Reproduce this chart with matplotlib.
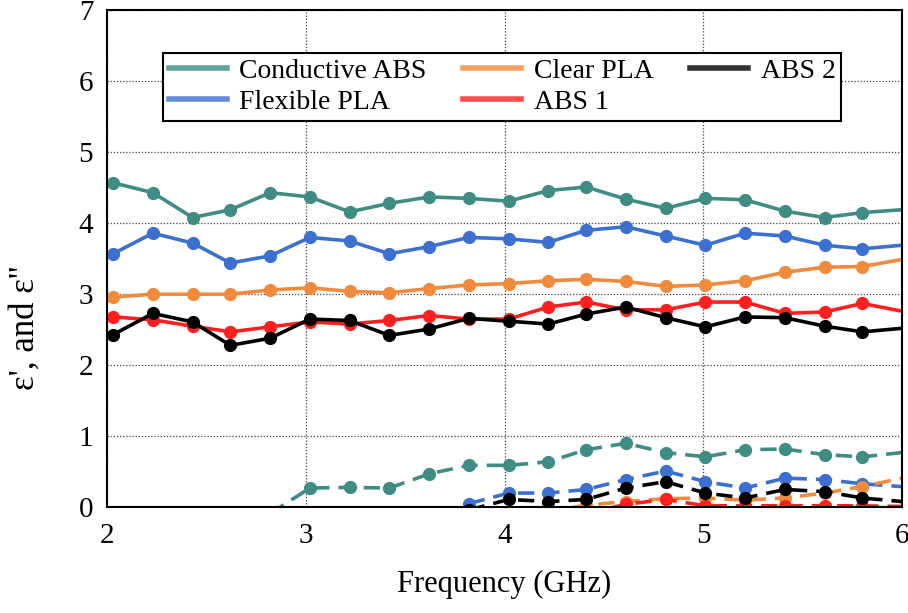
import numpy as np
import matplotlib
matplotlib.use("Agg")
import matplotlib.pyplot as plt
from matplotlib.lines import Line2D

nan = np.nan
freq = [2.03, 2.23, 2.43, 2.62, 2.82, 3.02, 3.22, 3.42, 3.62, 3.82, 4.02,
        4.22, 4.41, 4.61, 4.81, 5.01, 5.21, 5.41, 5.61, 5.80, 6.00]

# real part (eps')
cond_abs_re = [4.56, 4.42, 4.07, 4.18, 4.42, 4.36, 4.15, 4.27, 4.36, 4.34, 4.30,
               4.45, 4.50, 4.33, 4.20, 4.34, 4.32, 4.16, 4.07, 4.14, 4.18]
flex_pla_re = [3.56, 3.85, 3.71, 3.43, 3.53, 3.79, 3.74, 3.56, 3.66, 3.79, 3.77,
               3.72, 3.89, 3.94, 3.81, 3.68, 3.85, 3.81, 3.68, 3.63, 3.68]
clear_pla_re = [2.95, 2.99, 2.99, 2.99, 3.05, 3.08, 3.03, 3.01, 3.07, 3.12, 3.14,
                3.18, 3.20, 3.17, 3.10, 3.12, 3.18, 3.30, 3.37, 3.38, 3.48]
abs1_re = [2.67, 2.63, 2.54, 2.46, 2.53, 2.60, 2.57, 2.62, 2.69, 2.64, 2.64,
           2.81, 2.88, 2.77, 2.77, 2.88, 2.88, 2.72, 2.74, 2.86, 2.75]
abs2_re = [2.42, 2.72, 2.60, 2.27, 2.37, 2.64, 2.62, 2.41, 2.50, 2.65, 2.61,
           2.57, 2.71, 2.81, 2.66, 2.53, 2.67, 2.66, 2.54, 2.46, 2.51]

# imaginary part (eps'')
cond_abs_im = [nan, nan, nan, nan, -0.10, 0.26, 0.27, 0.26, 0.46, 0.58, 0.58,
               0.63, 0.80, 0.89, 0.76, 0.70, 0.80, 0.81, 0.73, 0.70, 0.76]
flex_pla_im = [nan, nan, nan, nan, nan, nan, nan, nan, nan, 0.04, 0.19,
               0.19, 0.24, 0.38, 0.50, 0.35, 0.26, 0.40, 0.38, 0.32, 0.28]
clear_pla_im = [nan, nan, nan, nan, nan, nan, nan, nan, nan, nan, nan,
                -0.07, 0.02, 0.07, 0.11, 0.12, 0.09, 0.12, 0.19, 0.28, 0.40]
abs1_im = [nan, nan, nan, nan, nan, nan, nan, nan, nan, nan, nan,
           nan, -0.10, 0.03, 0.10, 0.01, 0.01, 0.01, 0.01, 0.01, 0.00]
abs2_im = [nan, nan, nan, nan, nan, nan, nan, nan, nan, -0.05, 0.10,
           0.07, 0.10, 0.26, 0.35, 0.19, 0.12, 0.24, 0.21, 0.12, 0.07]

labels = ["Conductive ABS", "Flexible PLA", "Clear PLA", "ABS 1", "ABS 2"]
colors = ["#3f8c85", "#3b6fd0", "#f08a3c", "#ff1f1f", "#000000"]

plt.rcParams['font.family'] = ['Liberation Serif', 'DejaVu Serif']

fig = plt.figure(figsize=(9.08, 6.13), dpi=100)
ax = fig.add_axes([0.118, 0.1737, 0.8755, 0.8108])

re_series = [cond_abs_re, flex_pla_re, clear_pla_re, abs1_re, abs2_re]
im_series = [cond_abs_im, flex_pla_im, clear_pla_im, abs1_im, abs2_im]
mk = list(range(20))
for lab, c, re, im in zip(labels, colors, re_series, im_series):
    ax.plot(freq, re, '-', color=c, lw=2.6, marker='o', ms=8.5,
            markevery=mk, label=lab)
    ax.plot(freq, im, '--', color=c, lw=2.6, marker='o', ms=8.5,
            markevery=mk, dashes=(4.5, 2.5))

ax.set_xlim(2, 6)
ax.set_ylim(0, 7)
ax.set_xticks([2, 3, 4, 5, 6])
ax.set_yticks([0, 1, 2, 3, 4, 5, 6, 7])
ax.grid(True, linestyle=(0, (1, 1.5)), color='#444444', lw=0.9)
ax.tick_params(length=0, labelsize=21)
ax.tick_params(axis='y', pad=10)
ax.tick_params(axis='x', pad=12)
for s in ax.spines.values():
    s.set_linewidth(1.5)
    s.set_color('black')
    s.set_zorder(5)

ax.set_xlabel("Frequency (GHz)", fontsize=22, labelpad=15)
ax.set_ylabel("ε', and ε''", fontsize=25)
ax.yaxis.set_label_coords(-0.082, 0.36)

leg_h = [Line2D([], [], color=c, lw=4, alpha=0.8) for c in colors]
leg = ax.legend(leg_h, labels, ncol=3, loc='upper left',
                bbox_to_anchor=(0.0704, 0.9125), borderaxespad=0,
                fontsize=20, frameon=True, fancybox=False,
                edgecolor='black', handlelength=2.1, handletextpad=0.45,
                columnspacing=1.3, labelspacing=0.2, borderpad=0.2)
leg.get_frame().set_linewidth(1.5)
leg.get_frame().set_alpha(1)

fig.savefig("out.png", dpi=100)
